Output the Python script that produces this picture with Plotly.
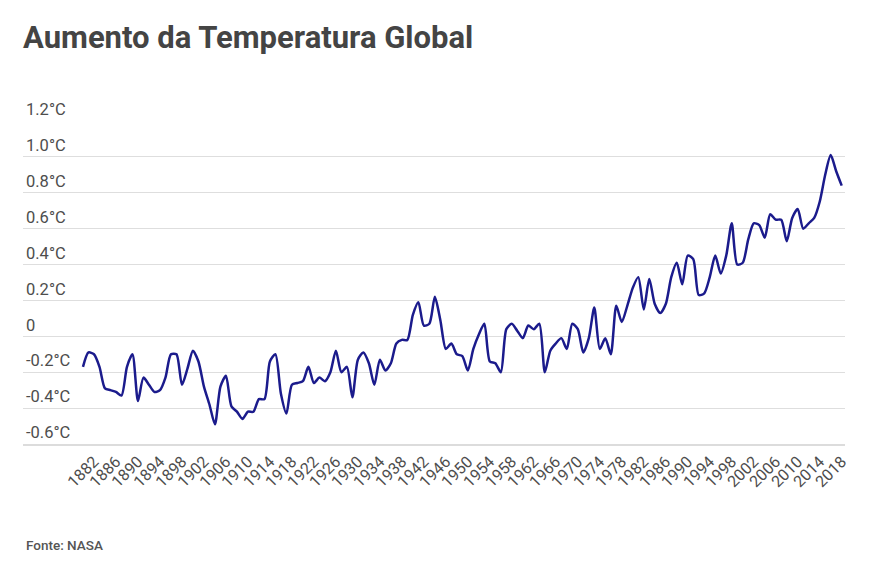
import plotly.graph_objects as go

years = list(range(1880, 2019))
anomaly = [
    -0.17, -0.09, -0.10, -0.17, -0.29, -0.30, -0.31, -0.33, -0.17, -0.10,  # 1880-1889
    -0.36, -0.23, -0.27, -0.31, -0.30, -0.23, -0.10, -0.10, -0.27, -0.18,  # 1890-1899
    -0.08, -0.14, -0.28, -0.38, -0.49, -0.28, -0.22, -0.39, -0.42, -0.46,  # 1900-1909
    -0.42, -0.42, -0.35, -0.35, -0.14, -0.10, -0.32, -0.43, -0.27, -0.26,  # 1910-1919
    -0.25, -0.17, -0.26, -0.23, -0.25, -0.20, -0.08, -0.20, -0.17, -0.34,  # 1920-1929
    -0.13, -0.09, -0.15, -0.27, -0.13, -0.19, -0.15, -0.04, -0.02, -0.02,  # 1930-1939
    0.12, 0.19, 0.06, 0.07, 0.22, 0.09, -0.07, -0.04, -0.10, -0.11,        # 1940-1949
    -0.19, -0.07, 0.01, 0.07, -0.14, -0.15, -0.20, 0.04, 0.07, 0.03,       # 1950-1959
    -0.01, 0.06, 0.04, 0.07, -0.20, -0.08, -0.04, -0.01, -0.07, 0.07,      # 1960-1969
    0.04, -0.09, -0.01, 0.16, -0.07, -0.01, -0.10, 0.17, 0.08, 0.17,       # 1970-1979
    0.27, 0.33, 0.15, 0.32, 0.18, 0.13, 0.18, 0.33, 0.41, 0.29,            # 1980-1989
    0.45, 0.43, 0.23, 0.24, 0.33, 0.45, 0.35, 0.45, 0.63, 0.40,            # 1990-1999
    0.41, 0.54, 0.63, 0.62, 0.55, 0.68, 0.65, 0.65, 0.53, 0.66,            # 2000-2009
    0.71, 0.60, 0.63, 0.66, 0.75, 0.90, 1.01, 0.92, 0.84,                  # 2010-2018
]

x_tickvals = list(range(1882, 2019, 4))
x_ticktext = [str(v) for v in x_tickvals]
y_tickvals = [-0.6, -0.4, -0.2, 0, 0.2, 0.4, 0.6, 0.8, 1.0, 1.2]
y_ticktext = ["-0.6°C", "-0.4°C", "-0.2°C", "0", "0.2°C", "0.4°C",
              "0.6°C", "0.8°C", "1.0°C", "1.2°C"]

title_text = "Aumento da Temperatura Global"
source_text = "Fonte: NASA"

W, H = 866, 553
L, R, T, B = 15, 29, 113, 117
plot_w = W - L - R
plot_h = H - T - B

fig = go.Figure()
fig.add_trace(go.Scatter(
    x=years, y=anomaly, mode="lines",
    line=dict(color="#1b1b8c", width=2.5, shape="spline", smoothing=0.7),
    hoverinfo="x+y", showlegend=False,
))

fig.update_layout(
    width=W, height=H,
    margin=dict(l=L, r=R, t=T, b=B),
    paper_bgcolor="white", plot_bgcolor="white",
    font=dict(family="Roboto, sans-serif", color="#4d4d4d"),
    title=dict(
        text="<b>" + title_text + "</b>",
        xref="container", yref="container",
        x=15 / W, xanchor="left",
        y=1 - 29 / H, yanchor="middle",
        font=dict(size=31, color="#444444", family="Roboto, sans-serif"),
    ),
    xaxis=dict(
        range=[1869.09, 2018.6],
        tickmode="array", tickvals=x_tickvals, ticktext=x_ticktext,
        tickangle=-45, tickfont=dict(size=16, color="#4d4d4d"),
        showgrid=False, zeroline=False,
        showline=True, linecolor="#dcdcdc", linewidth=2,
        ticks="", fixedrange=True,
    ),
    yaxis=dict(
        range=[-0.6, 1.2],
        tickmode="array", tickvals=y_tickvals, ticktext=y_ticktext,
        ticklabelposition="inside top", ticklabeloverflow="allow",
        tickfont=dict(size=16.5, color="#4d4d4d"),
        showgrid=True, gridcolor="#dedede", gridwidth=1,
        zeroline=False, showline=False, ticks="",
        fixedrange=True,
    ),
    annotations=[dict(
        text=source_text, xref="paper", yref="paper",
        x=(16 - L) / plot_w, xanchor="left", y=(H - B - 537) / plot_h, yanchor="middle",
        showarrow=False,
        font=dict(size=13.5, color="#555555", family="Roboto, sans-serif", weight=500),
    )],
)

fig.write_html("out.html")
